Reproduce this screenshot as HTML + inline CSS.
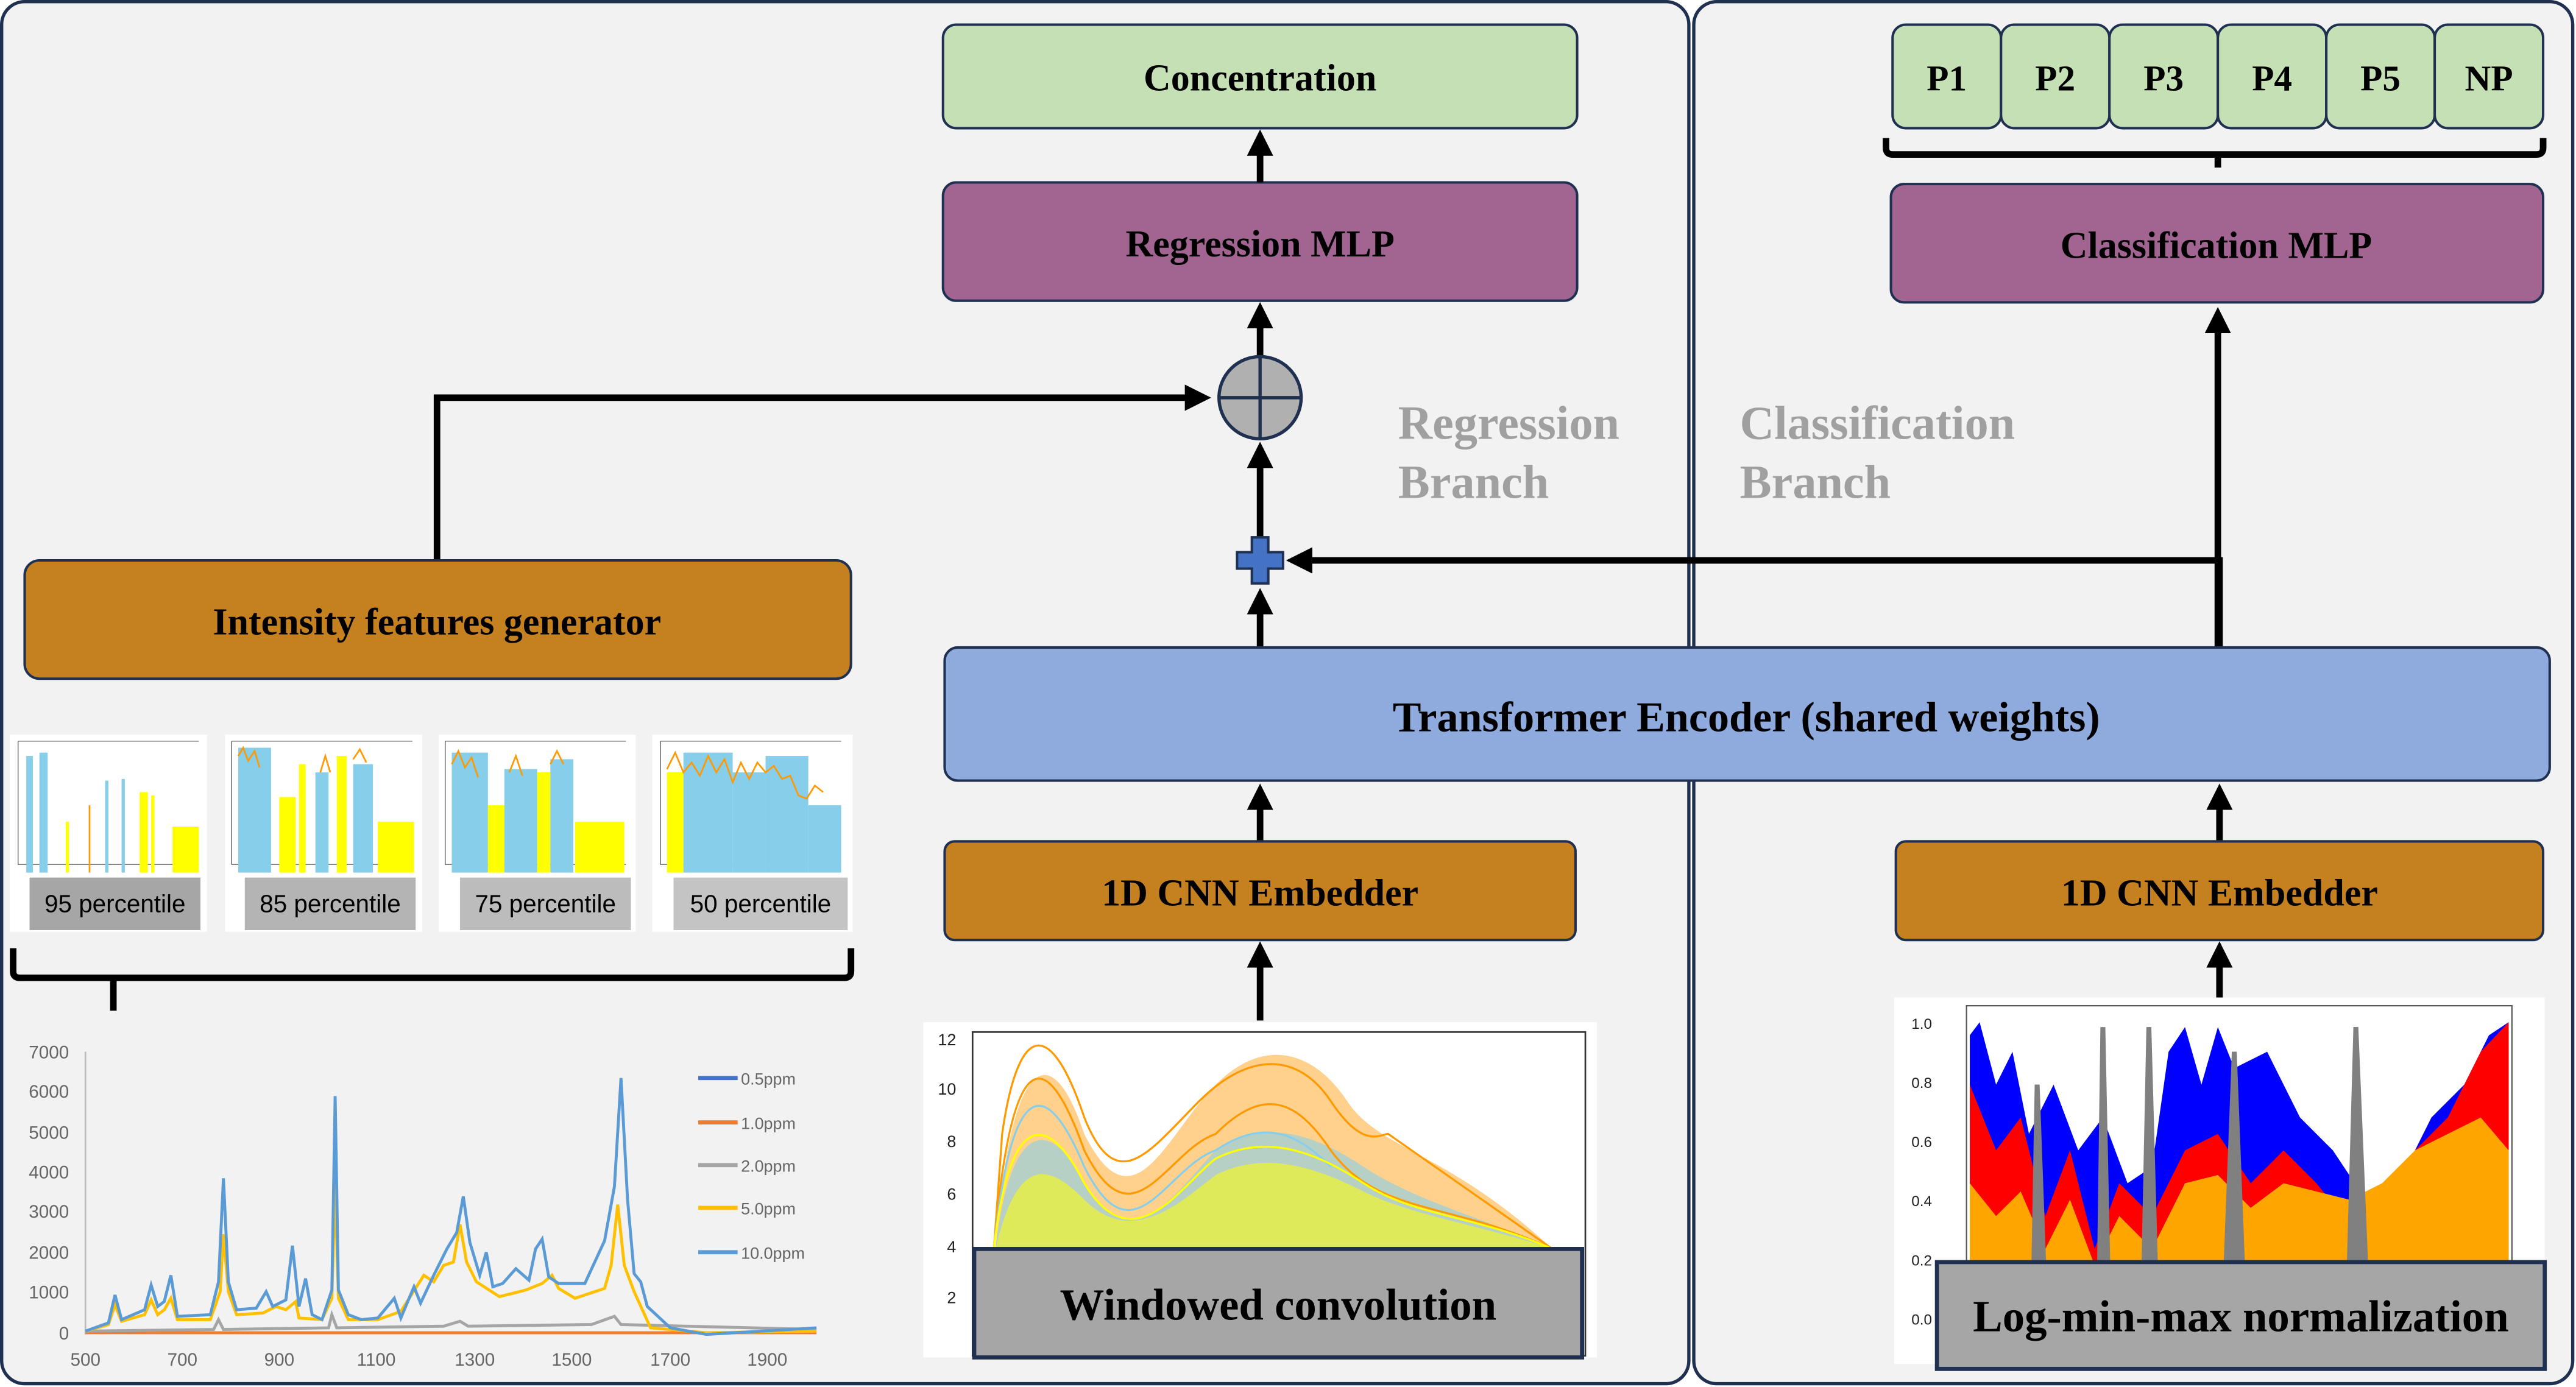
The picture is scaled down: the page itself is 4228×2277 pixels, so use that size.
<!DOCTYPE html>
<html><head><meta charset="utf-8"><style>
html,body{margin:0;padding:0;background:#fff;}
svg{display:block;}
text{font-family:"Liberation Serif",serif;font-weight:bold;}
text.sans{font-family:"Liberation Sans",sans-serif;font-weight:normal;}
</style></head><body>
<svg width="4228" height="2277" viewBox="0 0 1568 844" preserveAspectRatio="none" xmlns="http://www.w3.org/2000/svg">
<defs>
<marker id="ah" markerWidth="4" markerHeight="4" refX="2.2" refY="2" orient="auto" markerUnits="strokeWidth"><path d="M0,0 L4,2 L0,4 z" fill="#000"/></marker>
</defs>
<rect x="0" y="0" width="1568" height="844" fill="#fff"/>
<rect x="1" y="1" width="1027" height="841" rx="14" fill="#f2f2f2" stroke="#1f3050" stroke-width="2"/>
<rect x="1031" y="1" width="535" height="841" rx="14" fill="#f2f2f2" stroke="#1f3050" stroke-width="2"/>

<rect x="574" y="15" width="386" height="63" rx="8" fill="#c5e0b4" stroke="#1f3050" stroke-width="1.5"/>
<text x="767" y="55" font-size="23" text-anchor="middle">Concentration</text>
<rect x="574" y="111" width="386" height="72" rx="8" fill="#a26592" stroke="#1f3050" stroke-width="1.5"/>
<text x="767" y="156" font-size="23" text-anchor="middle">Regression MLP</text>

<g fill="#c5e0b4" stroke="#1f3050" stroke-width="1.5">
<rect x="1152" y="15" width="66" height="63" rx="8"/><rect x="1218" y="15" width="66" height="63" rx="8"/>
<rect x="1284" y="15" width="66" height="63" rx="8"/><rect x="1350" y="15" width="66" height="63" rx="8"/>
<rect x="1416" y="15" width="66" height="63" rx="8"/><rect x="1482" y="15" width="66" height="63" rx="8"/>
</g>
<g font-size="22" text-anchor="middle">
<text x="1185" y="55">P1</text><text x="1251" y="55">P2</text><text x="1317" y="55">P3</text>
<text x="1383" y="55">P4</text><text x="1449" y="55">P5</text><text x="1515" y="55">NP</text>
</g>
<path d="M1148,84 v6 q0,4 4,4 h392 q4,0 4,-4 v-6 M1350,94 v8" fill="none" stroke="#000" stroke-width="4"/>
<rect x="1151" y="112" width="397" height="72" rx="8" fill="#a26592" stroke="#1f3050" stroke-width="1.5"/>
<text x="1349" y="157" font-size="23" text-anchor="middle">Classification MLP</text>

<text x="851" y="267" font-size="29" fill="#a0a0a0">Regression</text>
<text x="851" y="303" font-size="29" fill="#a0a0a0">Branch</text>
<text x="1059" y="267" font-size="29" fill="#a0a0a0">Classification</text>
<text x="1059" y="303" font-size="29" fill="#a0a0a0">Branch</text>

<g stroke="#000" stroke-width="4" fill="none">
<line x1="767" y1="111" x2="767" y2="86" marker-end="url(#ah)"/>
<line x1="767" y1="217" x2="767" y2="191" marker-end="url(#ah)"/>
<line x1="767" y1="328" x2="767" y2="276" marker-end="url(#ah)"/>
<line x1="767" y1="394" x2="767" y2="365" marker-end="url(#ah)"/>
<polyline points="266,341 266,242 730,242" marker-end="url(#ah)"/>
<polyline points="1351,394 1351,341 790,341" marker-end="url(#ah)"/>
<line x1="1350" y1="394" x2="1350" y2="194" marker-end="url(#ah)"/>
<line x1="767" y1="512" x2="767" y2="484" marker-end="url(#ah)"/>
<line x1="767" y1="621" x2="767" y2="580" marker-end="url(#ah)"/>
<line x1="1351" y1="512" x2="1351" y2="484" marker-end="url(#ah)"/>
<line x1="1351" y1="607" x2="1351" y2="580" marker-end="url(#ah)"/>
</g>
<circle cx="767" cy="242" r="25" fill="#b0b0b0" stroke="#1f3050" stroke-width="2"/>
<path d="M742,242 h50 M767,217 v50" stroke="#1f3050" stroke-width="2"/>
<path d="M762,327 h10 v9 h9 v10 h-9 v9 h-10 v-9 h-9 v-10 h9 z" fill="#4472c4" stroke="#1f3050" stroke-width="1.5"/>

<rect x="575" y="394" width="977" height="81" rx="8" fill="#8faadc" stroke="#1f3050" stroke-width="1.5"/>
<text x="1063" y="445" font-size="26" text-anchor="middle">Transformer Encoder (shared weights)</text>

<rect x="15" y="341" width="503" height="72" rx="9" fill="#c5801f" stroke="#1f3050" stroke-width="1.5"/>
<text x="266" y="386" font-size="23" text-anchor="middle">Intensity features generator</text>

<rect x="575" y="512" width="384" height="60" rx="6" fill="#c5801f" stroke="#1f3050" stroke-width="1.5"/>
<text x="767" y="551" font-size="23" text-anchor="middle">1D CNN Embedder</text>
<rect x="1154" y="512" width="394" height="60" rx="6" fill="#c5801f" stroke="#1f3050" stroke-width="1.5"/>
<text x="1351" y="551" font-size="23" text-anchor="middle">1D CNN Embedder</text>

<g>
<rect x="6" y="447" width="120" height="120" fill="#fff"/>
<rect x="137" y="447" width="120" height="120" fill="#fff"/>
<rect x="267" y="447" width="120" height="120" fill="#fff"/>
<rect x="397" y="447" width="122" height="120" fill="#fff"/>
<g stroke="#555" stroke-width="0.5" fill="none">
<path d="M11,451 v75 h110 M11,451 h110"/><path d="M141,451 v75 h110 M141,451 h110"/>
<path d="M271,451 v75 h110 M271,451 h110"/><path d="M402,451 v75 h110 M402,451 h110"/>
</g>
<g>
<rect x="16" y="460" width="4" height="71" fill="#87ceeb"/><rect x="24" y="458" width="5" height="73" fill="#87ceeb"/>
<rect x="40" y="500" width="2" height="31" fill="#ff0"/><rect x="54" y="490" width="1" height="41" fill="#f90"/>
<rect x="64" y="475" width="2" height="56" fill="#87ceeb"/><rect x="74" y="474" width="2" height="57" fill="#87ceeb"/>
<rect x="85" y="482" width="5" height="49" fill="#ff0"/><rect x="92" y="484" width="2" height="47" fill="#ff0"/>
<rect x="105" y="503" width="16" height="28" fill="#ff0"/>
</g>
<g>
<rect x="145" y="455" width="20" height="76" fill="#87ceeb"/><rect x="170" y="485" width="10" height="46" fill="#ff0"/>
<rect x="182" y="465" width="4" height="66" fill="#ff0"/><rect x="192" y="470" width="8" height="61" fill="#87ceeb"/>
<rect x="205" y="460" width="6" height="71" fill="#ff0"/><rect x="215" y="465" width="12" height="66" fill="#87ceeb"/>
<rect x="230" y="500" width="22" height="31" fill="#ff0"/>
<path d="M145,460 l3,-5 3,8 4,-6 3,10 M195,470 l3,-10 3,10 M215,462 l4,-6 4,8" stroke="#f90" fill="none"/>
</g>
<g>
<rect x="275" y="458" width="22" height="73" fill="#87ceeb"/><rect x="297" y="490" width="10" height="41" fill="#ff0"/>
<rect x="307" y="468" width="20" height="63" fill="#87ceeb"/><rect x="327" y="470" width="8" height="61" fill="#ff0"/>
<rect x="335" y="462" width="14" height="69" fill="#87ceeb"/><rect x="350" y="500" width="30" height="31" fill="#ff0"/>
<path d="M275,465 l4,-8 4,10 4,-6 4,12 M310,470 l4,-10 4,12 M335,465 l4,-8 4,8" stroke="#f90" fill="none"/>
</g>
<g>
<rect x="406" y="470" width="10" height="61" fill="#ff0"/><rect x="416" y="458" width="30" height="73" fill="#87ceeb"/>
<rect x="446" y="470" width="20" height="61" fill="#87ceeb"/><rect x="466" y="460" width="26" height="71" fill="#87ceeb"/>
<rect x="492" y="490" width="20" height="41" fill="#87ceeb"/>
<path d="M406,468 l5,-10 5,12 5,-6 5,8 5,-12 5,10 5,-8 5,14 5,-12 5,10 5,-10 5,6 5,-4 5,8 5,-2 5,12 5,2 5,-8 5,4" stroke="#f90" fill="none"/>
</g>
<rect x="18" y="534" width="104" height="32" fill="#a6a6a6"/>
<rect x="149" y="534" width="104" height="32" fill="#b4b4b4"/>
<rect x="280" y="534" width="104" height="32" fill="#bcbcbc"/>
<rect x="410" y="534" width="106" height="32" fill="#c4c4c4"/>
<g font-size="15" text-anchor="middle">
<text class="sans" x="70" y="555">95 percentile</text><text class="sans" x="201" y="555">85 percentile</text>
<text class="sans" x="332" y="555">75 percentile</text><text class="sans" x="463" y="555">50 percentile</text>
</g>
</g>
<path d="M8,577 v14 q0,4 4,4 h502 q4,0 4,-4 v-14 M69,595 v20" fill="none" stroke="#000" stroke-width="4"/>

<g font-size="11" fill="#666">
<line x1="52" y1="640" x2="52" y2="812" stroke="#bbb" stroke-width="1"/>
<g text-anchor="end"><text class="sans" x="42" y="644">7000</text><text class="sans" x="42" y="668">6000</text><text class="sans" x="42" y="693">5000</text><text class="sans" x="42" y="717">4000</text><text class="sans" x="42" y="741">3000</text><text class="sans" x="42" y="766">2000</text><text class="sans" x="42" y="790">1000</text><text class="sans" x="42" y="815">0</text></g>
<g text-anchor="middle"><text class="sans" x="52" y="831">500</text><text class="sans" x="111" y="831">700</text><text class="sans" x="170" y="831">900</text><text class="sans" x="229" y="831">1100</text><text class="sans" x="289" y="831">1300</text><text class="sans" x="348" y="831">1500</text><text class="sans" x="408" y="831">1700</text><text class="sans" x="467" y="831">1900</text></g>
<g stroke-width="2.5"><line x1="425" y1="656" x2="449" y2="656" stroke="#4472c4"/><line x1="425" y1="683" x2="449" y2="683" stroke="#ed7d31"/><line x1="425" y1="709" x2="449" y2="709" stroke="#a5a5a5"/><line x1="425" y1="735" x2="449" y2="735" stroke="#ffc000"/><line x1="425" y1="762" x2="449" y2="762" stroke="#5b9bd5"/></g>
<g font-size="10"><text class="sans" x="451" y="660">0.5ppm</text><text class="sans" x="451" y="687">1.0ppm</text><text class="sans" x="451" y="713">2.0ppm</text><text class="sans" x="451" y="739">5.0ppm</text><text class="sans" x="451" y="766">10.0ppm</text></g>
</g>
<g fill="none" stroke-width="1.8">
<path d="M52,811 H497" stroke="#ed7d31"/>
<path d="M52,810 L130,809 133,803 136,809 200,808 202,800 205,808 270,807 280,804 285,807 360,806 374,801 378,806 497,809" stroke="#a5a5a5"/>
<path d="M52,810 L66,806 70,794 74,804 88,800 92,791 96,800 100,797 104,790 108,803 128,803 134,786 136,751 139,786 144,800 160,799 168,795 174,797 180,792 182,802 196,803 202,790 204,720 206,790 212,803 230,803 244,798 258,776 264,780 270,770 276,768 280,745 284,768 290,780 304,789 320,785 330,781 336,776 340,784 350,790 368,784 372,770 376,733 380,770 386,786 396,808 430,811 497,810" stroke="#ffc000"/>
<path d="M52,810 L66,805 70,788 74,803 88,797 92,782 96,795 100,792 104,776 108,801 128,800 133,780 136,717 139,780 144,797 156,796 162,786 166,795 174,791 178,758 182,795 186,778 190,800 196,803 202,785 204,667 206,785 212,800 220,803 230,802 240,790 244,802 252,783 256,793 264,776 272,760 278,750 282,728 286,756 292,776 296,762 300,783 306,781 314,772 322,779 326,760 330,754 334,777 340,781 356,781 368,755 374,722 378,656 382,730 386,775 390,780 394,795 408,808 430,812 497,808" stroke="#5b9bd5"/>
</g>

<rect x="562" y="622" width="410" height="204" fill="#fff"/>
<rect x="592" y="628" width="373" height="197" fill="none" stroke="#333" stroke-width="1"/>
<g font-size="10" fill="#222" text-anchor="end">
<text class="sans" x="582" y="636">12</text><text class="sans" x="582" y="666">10</text><text class="sans" x="582" y="698">8</text><text class="sans" x="582" y="730">6</text><text class="sans" x="582" y="762">4</text><text class="sans" x="582" y="793">2</text>
</g>
<path d="M606,760 C615,640 640,630 660,690 C690,750 710,690 740,660 C770,630 800,640 820,670 C840,700 880,700 945,760 Z" fill="#f90" opacity="0.45"/>
<path d="M606,760 C615,680 640,680 660,720 C690,770 720,720 740,700 C770,680 800,690 830,710 C860,730 900,740 945,760 Z" fill="#87ceeb" opacity="0.6"/>
<path d="M606,760 C620,700 640,710 660,730 C690,760 720,730 740,715 C770,700 800,710 830,725 C860,740 900,745 945,760 Z" fill="#ff0" opacity="0.55"/>
<g fill="none" stroke-width="1.2">
<path d="M605,760 L610,690 C620,620 640,620 660,680 C680,730 700,700 730,670 C760,640 790,640 810,670 C830,700 840,690 845,690 L945,760" stroke="#f90"/>
<path d="M605,760 C615,640 635,630 660,700 C690,760 710,700 740,690 C770,660 790,670 810,700 C840,740 880,730 945,760" stroke="#f90"/>
<path d="M605,760 C615,660 635,650 660,710 C690,770 710,710 740,700 C770,680 790,690 810,710" stroke="#87ceeb"/>
<path d="M605,760 C615,670 640,680 660,720 C690,770 720,720 740,705 C770,690 800,700 830,720 C860,740 900,740 945,760" stroke="#ff0"/>
</g>
<rect x="593" y="760" width="370" height="66" fill="#a6a6a6" stroke="#1f3050" stroke-width="2.5"/>
<text x="778" y="803" font-size="27" text-anchor="middle">Windowed convolution</text>

<rect x="1153" y="607" width="396" height="223" fill="#fff"/>
<rect x="1197" y="612" width="332" height="218" fill="none" stroke="#555" stroke-width="0.8"/>
<g font-size="9" fill="#222" text-anchor="end">
<text class="sans" x="1176" y="626">1.0</text><text class="sans" x="1176" y="662">0.8</text><text class="sans" x="1176" y="698">0.6</text><text class="sans" x="1176" y="734">0.4</text><text class="sans" x="1176" y="770">0.2</text><text class="sans" x="1176" y="806">0.0</text>
</g>
<path d="M1199,770 V630 L1205,622 1215,660 1225,640 1235,690 1250,660 1265,700 1280,680 1295,720 1310,710 1320,640 1330,625 1340,660 1350,625 1360,650 1380,640 1400,680 1420,700 1440,730 1460,720 1480,680 1500,660 1515,630 1527,622 V770 Z" fill="#00f"/>
<path d="M1199,770 V660 L1215,700 1230,680 1245,740 1260,700 1275,760 1290,720 1310,740 1330,700 1350,690 1370,720 1390,700 1410,720 1430,745 1450,730 1470,700 1490,680 1510,640 1527,622 V770 Z" fill="#f00"/>
<path d="M1199,770 V720 L1215,740 1230,725 1245,760 1260,730 1275,770 1290,740 1310,760 1330,720 1350,715 1370,735 1390,720 1410,725 1430,730 1450,720 1470,700 1490,690 1510,680 1527,700 V770 Z" fill="#ffa500"/>
<path d="M1238,770 L1240,660 1244,770 M1278,770 L1280,625 1283,770 M1305,770 L1308,625 1312,770 M1355,770 L1360,640 1365,770 M1430,770 L1434,625 1440,770" fill="#808080" stroke="#808080" stroke-width="3"/>
<rect x="1179" y="768" width="370" height="65" fill="#a6a6a6" stroke="#1f3050" stroke-width="2.5"/>
<text x="1364" y="810" font-size="27" text-anchor="middle">Log-min-max normalization</text>
</svg>
</body></html>
